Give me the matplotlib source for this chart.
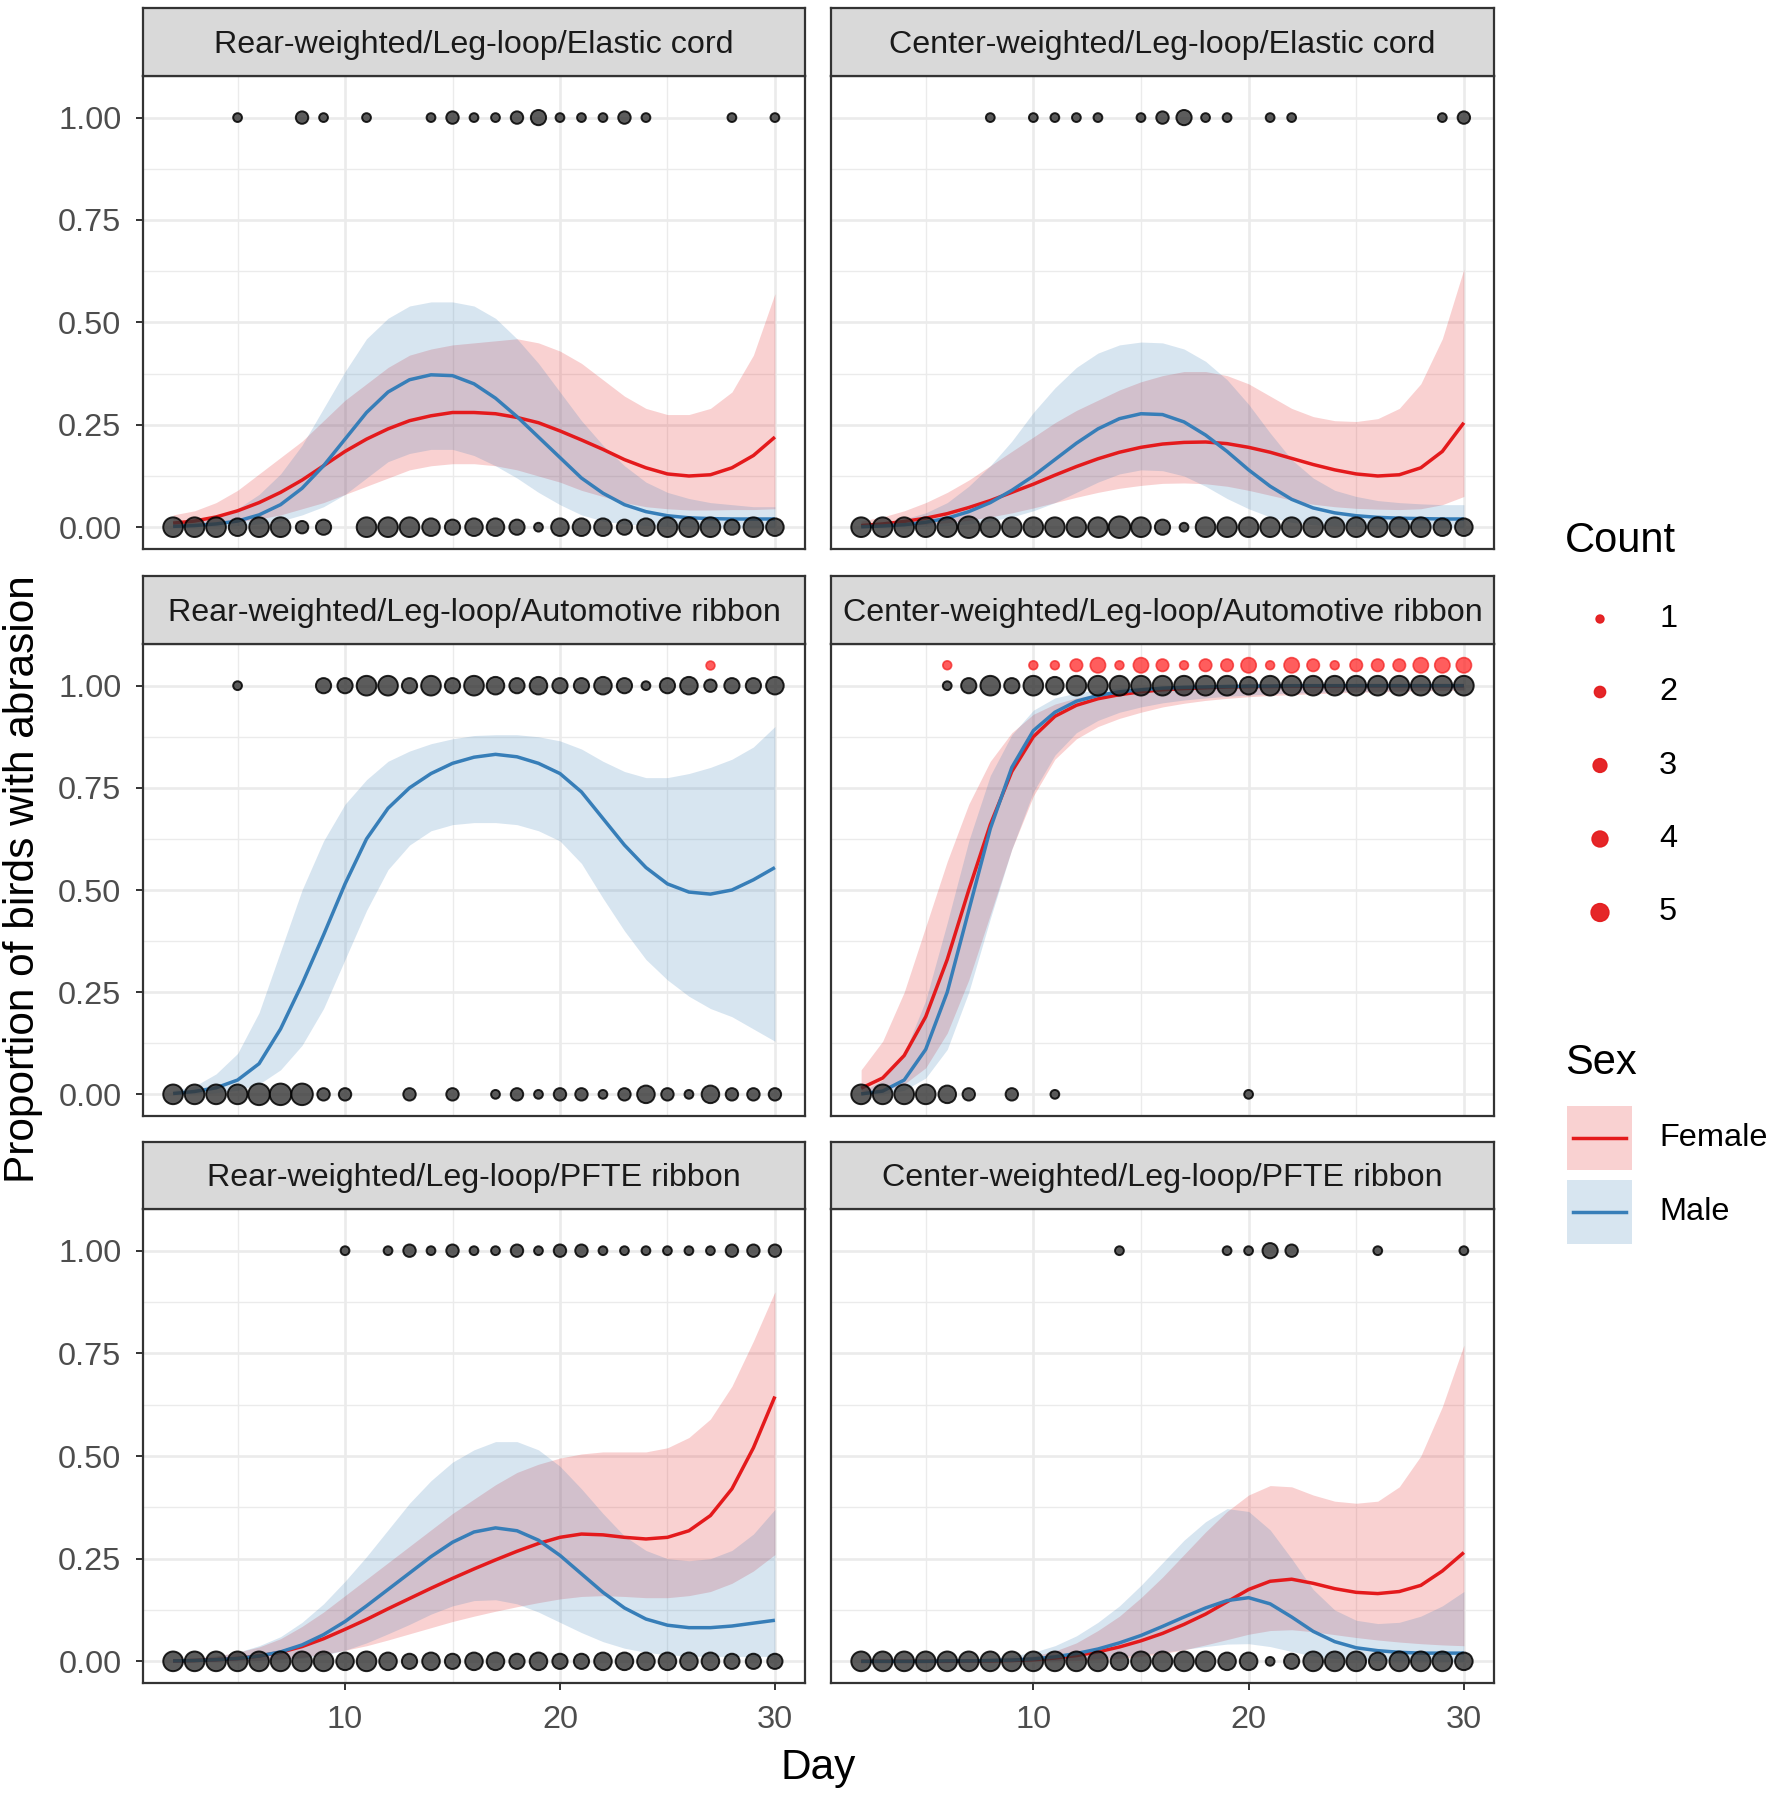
import numpy as np
import matplotlib
matplotlib.use("Agg")
import matplotlib.pyplot as plt
from matplotlib.patches import Rectangle

plt.rcParams['font.family'] = ['Liberation Sans', 'DejaVu Sans']

W, H, DPI = 1770, 1796, 100

# ---------------- data ----------------
days = list(range(2, 31))

panel_titles = ["Rear-weighted/Leg-loop/Elastic cord", "Center-weighted/Leg-loop/Elastic cord",
                "Rear-weighted/Leg-loop/Automotive ribbon", "Center-weighted/Leg-loop/Automotive ribbon",
                "Rear-weighted/Leg-loop/PFTE ribbon", "Center-weighted/Leg-loop/PFTE ribbon"]

y_ticks = [0.0, 0.25, 0.5, 0.75, 1.0]
y_tick_labels = ["0.00", "0.25", "0.50", "0.75", "1.00"]
x_ticks = [10, 20, 30]
x_tick_labels = ["10", "20", "30"]

# Panel 1: Rear / Elastic cord
f_fit_1 = [0.01,0.015,0.025,0.04,0.06,0.085,0.115,0.15,0.185,0.215,0.24,0.26,0.272,0.28,0.28,0.277,0.268,0.255,0.235,0.213,0.19,0.165,0.145,0.13,0.125,0.128,0.145,0.175,0.22]
f_hi_1 = [0.03,0.04,0.06,0.09,0.13,0.17,0.21,0.26,0.31,0.35,0.39,0.42,0.435,0.445,0.45,0.455,0.46,0.45,0.43,0.40,0.36,0.32,0.29,0.275,0.275,0.29,0.33,0.42,0.57]
f_lo_1 = [0.002,0.004,0.008,0.013,0.02,0.03,0.045,0.06,0.08,0.1,0.12,0.14,0.15,0.155,0.155,0.15,0.14,0.125,0.11,0.09,0.075,0.06,0.05,0.045,0.042,0.042,0.043,0.043,0.045]
m_fit_1 = [0.002,0.004,0.008,0.015,0.03,0.055,0.095,0.15,0.215,0.28,0.33,0.36,0.372,0.37,0.35,0.315,0.27,0.22,0.17,0.12,0.083,0.055,0.038,0.028,0.023,0.021,0.02,0.02,0.02]
m_hi_1 = [0.006,0.012,0.025,0.045,0.08,0.13,0.2,0.29,0.38,0.46,0.51,0.54,0.55,0.55,0.54,0.51,0.46,0.40,0.33,0.26,0.2,0.15,0.11,0.085,0.07,0.06,0.055,0.05,0.05]
m_lo_1 = [0.0,0.001,0.002,0.004,0.008,0.015,0.03,0.05,0.08,0.12,0.16,0.18,0.19,0.19,0.175,0.15,0.12,0.085,0.055,0.03,0.015,0.008,0.004,0.002,0.001,0.001,0.0,0.0,0.0]
top_days_1 = [5,8,9,11,14,15,16,17,18,19,20,21,22,23,24,28,30]
top_n_1 = [1,2,1,1,1,2,1,1,2,3,1,1,1,2,1,1,1]
bot_days_1 = [2,3,4,5,6,7,8,9,11,12,13,14,15,16,17,18,19,20,21,22,23,24,25,26,27,28,29,30]
bot_n_1 = [5,5,5,4,5,5,2,3,5,5,5,4,3,4,4,3,1,4,4,4,3,4,5,5,5,3,5,4]

# Panel 2: Center / Elastic cord
f_fit_2 = [0.004,0.008,0.014,0.022,0.033,0.048,0.065,0.085,0.105,0.127,0.148,0.167,0.183,0.195,0.203,0.207,0.208,0.204,0.195,0.183,0.168,0.153,0.14,0.13,0.125,0.128,0.145,0.185,0.255]
f_hi_2 = [0.015,0.025,0.04,0.06,0.085,0.115,0.15,0.185,0.22,0.255,0.285,0.31,0.335,0.355,0.37,0.38,0.38,0.37,0.35,0.32,0.29,0.27,0.26,0.258,0.265,0.29,0.35,0.46,0.63]
f_lo_2 = [0.001,0.002,0.004,0.007,0.011,0.017,0.025,0.035,0.047,0.06,0.073,0.085,0.095,0.102,0.107,0.108,0.106,0.1,0.09,0.078,0.066,0.056,0.05,0.046,0.044,0.043,0.045,0.055,0.075]
m_fit_2 = [0.001,0.003,0.006,0.012,0.022,0.038,0.06,0.09,0.125,0.165,0.205,0.24,0.265,0.277,0.275,0.257,0.225,0.185,0.14,0.1,0.068,0.047,0.035,0.028,0.024,0.022,0.021,0.02,0.02]
m_hi_2 = [0.005,0.01,0.02,0.035,0.06,0.1,0.15,0.21,0.28,0.34,0.39,0.425,0.445,0.452,0.45,0.435,0.405,0.36,0.3,0.23,0.165,0.12,0.09,0.075,0.065,0.06,0.057,0.055,0.055]
m_lo_2 = [0.0,0.0,0.001,0.002,0.004,0.008,0.015,0.025,0.04,0.06,0.085,0.11,0.13,0.14,0.138,0.125,0.1,0.07,0.045,0.025,0.012,0.006,0.003,0.002,0.001,0.001,0.0,0.0,0.0]
top_days_2 = [8,10,11,12,13,15,16,17,18,19,21,22,29,30]
top_n_2 = [1,1,1,1,1,1,2,3,1,1,1,1,1,2]
bot_days_2 = days
bot_n_2 = [5,5,5,5,5,6,5,5,5,5,5,5,6,5,3,1,5,5,5,5,5,5,5,5,5,5,5,4,4]

# Panel 3: Rear / Automotive ribbon (male curve only)
m_fit_3 = [0.002,0.007,0.016,0.035,0.075,0.16,0.27,0.39,0.515,0.625,0.7,0.75,0.785,0.81,0.825,0.832,0.826,0.81,0.785,0.74,0.675,0.61,0.555,0.515,0.495,0.49,0.5,0.525,0.555]
m_hi_3 = [0.01,0.02,0.05,0.1,0.2,0.35,0.5,0.62,0.71,0.77,0.815,0.84,0.858,0.87,0.878,0.88,0.88,0.875,0.865,0.845,0.815,0.79,0.775,0.775,0.785,0.8,0.82,0.85,0.9]
m_lo_3 = [0.0,0.001,0.004,0.01,0.025,0.06,0.12,0.21,0.33,0.45,0.55,0.61,0.645,0.66,0.665,0.665,0.66,0.645,0.62,0.565,0.48,0.4,0.33,0.28,0.24,0.21,0.19,0.16,0.13]
top_days_3 = [5,9,10,11,12,13,14,15,16,17,18,19,20,21,22,23,24,25,26,27,28,29,30]
top_n_3 = [1,3,3,5,5,3,5,3,5,4,3,4,3,3,4,3,1,3,4,2,3,3,4]
bot_days_3 = [2,3,4,5,6,7,8,9,10,13,15,17,18,19,20,21,22,23,24,25,26,27,28,29,30]
bot_n_3 = [5,5,5,5,6,6,6,2,2,2,2,1,2,1,2,2,1,2,4,2,1,4,2,2,2]
fem_days_3 = [27]
fem_n_3 = [1]

# Panel 4: Center / Automotive ribbon
f_fit_4 = [0.015,0.04,0.095,0.19,0.33,0.5,0.66,0.79,0.875,0.925,0.952,0.968,0.978,0.985,0.99,0.993,0.995,0.997,0.998,0.998,0.999,0.999,0.999,1,1,1,1,1,1]
f_hi_4 = [0.06,0.13,0.25,0.41,0.57,0.71,0.815,0.885,0.93,0.955,0.97,0.98,0.987,0.992,0.995,0.997,0.998,0.999,0.999,1,1,1,1,1,1,1,1,1,1]
f_lo_4 = [0.002,0.008,0.025,0.065,0.15,0.28,0.44,0.6,0.73,0.82,0.87,0.9,0.92,0.935,0.948,0.957,0.964,0.969,0.973,0.976,0.978,0.98,0.982,0.984,0.985,0.986,0.987,0.988,0.989]
m_fit_4 = [0.001,0.008,0.035,0.11,0.25,0.45,0.65,0.8,0.89,0.935,0.962,0.976,0.985,0.99,0.994,0.996,0.997,0.998,0.999,0.999,1,1,1,1,1,1,1,1,1]
m_hi_4 = [0.005,0.035,0.1,0.23,0.42,0.62,0.78,0.88,0.94,0.97,0.982,0.99,0.995,0.997,0.998,0.999,1,1,1,1,1,1,1,1,1,1,1,1,1]
m_lo_4 = [0.0,0.001,0.01,0.04,0.11,0.25,0.43,0.6,0.74,0.83,0.885,0.915,0.935,0.948,0.958,0.965,0.97,0.974,0.977,0.98,0.982,0.983,0.985,0.986,0.987,0.988,0.989,0.99,0.99]
top_days_4 = [6,7,8,9,10,11,12,13,14,15,16,17,18,19,20,21,22,23,24,25,26,27,28,29,30]
top_n_4 = [1,3,5,3,5,4,5,5,5,5,5,5,5,5,4,5,5,5,5,5,5,5,5,5,5]
bot_days_4 = [2,3,4,5,6,7,9,11,20]
bot_n_4 = [5,5,5,5,4,2,2,1,1]
fem_days_4 = [6,10,11,12,13,14,15,16,17,18,19,20,21,22,23,24,25,26,27,28,29,30]
fem_n_4 = [1,1,1,2,3,1,3,2,1,2,2,3,1,3,2,1,2,2,2,3,3,3]

# Panel 5: Rear / PFTE ribbon
f_fit_5 = [0.001,0.002,0.004,0.007,0.013,0.022,0.036,0.055,0.078,0.102,0.128,0.153,0.178,0.202,0.225,0.247,0.268,0.287,0.302,0.31,0.308,0.302,0.298,0.302,0.318,0.355,0.42,0.52,0.645]
f_hi_5 = [0.005,0.008,0.013,0.022,0.035,0.055,0.085,0.12,0.16,0.2,0.24,0.28,0.32,0.36,0.395,0.43,0.46,0.48,0.495,0.505,0.51,0.51,0.51,0.52,0.545,0.59,0.67,0.78,0.9]
f_lo_5 = [0.0,0.0,0.001,0.002,0.003,0.006,0.01,0.017,0.027,0.038,0.052,0.067,0.082,0.097,0.11,0.122,0.133,0.143,0.152,0.158,0.16,0.158,0.155,0.155,0.16,0.17,0.19,0.22,0.26]
m_fit_5 = [0.001,0.002,0.004,0.007,0.013,0.023,0.04,0.065,0.097,0.135,0.175,0.215,0.255,0.29,0.315,0.325,0.318,0.295,0.258,0.213,0.168,0.13,0.103,0.088,0.082,0.082,0.086,0.093,0.1]
m_hi_5 = [0.003,0.006,0.012,0.022,0.038,0.06,0.095,0.14,0.195,0.255,0.32,0.385,0.44,0.485,0.515,0.535,0.535,0.515,0.475,0.42,0.36,0.305,0.27,0.25,0.245,0.25,0.27,0.31,0.37]
m_lo_5 = [0.0,0.0,0.001,0.001,0.002,0.004,0.008,0.015,0.027,0.045,0.067,0.09,0.115,0.135,0.148,0.15,0.14,0.12,0.095,0.07,0.048,0.032,0.022,0.016,0.013,0.012,0.012,0.012,0.012]
top_days_5 = [10,12,13,14,15,16,17,18,19,20,21,22,23,24,25,26,27,28,29,30]
top_n_5 = [1,1,2,1,2,1,1,2,1,2,2,1,1,1,1,1,1,2,2,2]
bot_days_5 = days
bot_n_5 = [5,5,5,5,5,5,5,5,4,5,4,3,4,3,4,4,3,4,3,3,4,4,4,4,4,4,3,3,3]

# Panel 6: Center / PFTE ribbon
f_fit_6 = [0.0,0.0,0.0,0.0,0.0,0.001,0.001,0.002,0.004,0.008,0.014,0.023,0.035,0.05,0.068,0.09,0.115,0.145,0.175,0.195,0.2,0.19,0.177,0.168,0.165,0.17,0.185,0.22,0.265]
f_hi_6 = [0.0,0.0,0.001,0.001,0.002,0.003,0.005,0.008,0.013,0.025,0.045,0.075,0.11,0.155,0.205,0.26,0.315,0.365,0.405,0.428,0.425,0.405,0.39,0.385,0.39,0.425,0.5,0.62,0.77]
f_lo_6 = [0.0,0.0,0.0,0.0,0.0,0.0,0.0,0.0,0.0,0.001,0.002,0.004,0.007,0.012,0.019,0.028,0.04,0.053,0.066,0.075,0.077,0.072,0.065,0.058,0.052,0.047,0.043,0.04,0.038]
m_fit_6 = [0.0,0.0,0.0,0.0,0.001,0.001,0.002,0.003,0.006,0.011,0.019,0.03,0.045,0.063,0.085,0.108,0.13,0.148,0.155,0.14,0.108,0.073,0.048,0.033,0.026,0.022,0.02,0.02,0.02]
m_hi_6 = [0.0,0.001,0.001,0.002,0.003,0.005,0.008,0.013,0.022,0.038,0.062,0.095,0.135,0.185,0.24,0.295,0.34,0.372,0.365,0.32,0.25,0.175,0.125,0.1,0.092,0.095,0.11,0.135,0.17]
m_lo_6 = [0.0,0.0,0.0,0.0,0.0,0.0,0.0,0.0,0.001,0.002,0.004,0.007,0.011,0.016,0.022,0.029,0.036,0.042,0.043,0.036,0.024,0.013,0.007,0.004,0.002,0.001,0.001,0.0,0.0]
top_days_6 = [14,19,20,21,22,26,30]
top_n_6 = [1,1,1,3,2,1,1]
bot_days_6 = days
bot_n_6 = [5,5,5,5,5,5,5,5,5,5,5,5,4,5,5,5,5,4,4,1,3,5,5,5,4,5,5,5,4]

legend_counts = [1, 2, 3, 4, 5]
sex_labels = ["Female", "Male"]

panels = [
    dict(f=(f_fit_1, f_lo_1, f_hi_1), m=(m_fit_1, m_lo_1, m_hi_1), top=(top_days_1, top_n_1), bot=(bot_days_1, bot_n_1), fem=None),
    dict(f=(f_fit_2, f_lo_2, f_hi_2), m=(m_fit_2, m_lo_2, m_hi_2), top=(top_days_2, top_n_2), bot=(bot_days_2, bot_n_2), fem=None),
    dict(f=None, m=(m_fit_3, m_lo_3, m_hi_3), top=(top_days_3, top_n_3), bot=(bot_days_3, bot_n_3), fem=(fem_days_3, fem_n_3)),
    dict(f=(f_fit_4, f_lo_4, f_hi_4), m=(m_fit_4, m_lo_4, m_hi_4), top=(top_days_4, top_n_4), bot=(bot_days_4, bot_n_4), fem=(fem_days_4, fem_n_4)),
    dict(f=(f_fit_5, f_lo_5, f_hi_5), m=(m_fit_5, m_lo_5, m_hi_5), top=(top_days_5, top_n_5), bot=(bot_days_5, bot_n_5), fem=None),
    dict(f=(f_fit_6, f_lo_6, f_hi_6), m=(m_fit_6, m_lo_6, m_hi_6), top=(top_days_6, top_n_6), bot=(bot_days_6, bot_n_6), fem=None),
]

# ---------------- style ----------------
RED = "#E41A1C"
BLUE = "#377EB8"
GRID = "#EBEBEB"
BORDER = "#333333"
PX = 72.0 / DPI  # points per pixel
LW = 2.5


def msize(n, k=8.8):
    d_px = k * np.sqrt(np.asarray(n, dtype=float))
    return (d_px * PX) ** 2


def frect(x0, y0, x1, y1):
    return [x0 / W, 1 - y1 / H, (x1 - x0) / W, (y1 - y0) / H]


fig = plt.figure(figsize=(W / DPI, H / DPI), dpi=DPI)
fig.patch.set_facecolor("white")

cols = [(143, 805), (831, 1494)]
rows = [(8, 75.6, 548.7), (576.2, 643.8, 1115.8), (1142.2, 1208.6, 1682.9)]

for i, p in enumerate(panels):
    r, c = divmod(i, 2)
    cx0, cx1 = cols[c]
    st, pt, pb = rows[r]
    ax = fig.add_axes(frect(cx0, pt, cx1, pb))
    sax = fig.add_axes(frect(cx0, st, cx1, pt))
    # strip
    sax.set_facecolor("#D9D9D9")
    sax.set_xticks([]); sax.set_yticks([])
    for s in sax.spines.values():
        s.set_color(BORDER); s.set_linewidth(1.6)
    sax.text(0.5, 0.46, panel_titles[i], ha="center", va="center", fontsize=23.2,
             color="#1A1A1A", transform=sax.transAxes)

    ax.set_xlim(0.6, 31.4)
    ax.set_ylim(-0.0525, 1.1025)
    ax.set_xticks(x_ticks)
    ax.set_xticks([5, 15, 25], minor=True)
    ax.set_yticks(y_ticks)
    ax.set_yticks([0.125, 0.375, 0.625, 0.875], minor=True)
    ax.grid(which="major", color=GRID, lw=1.9)
    ax.grid(which="minor", color=GRID, lw=1.0)
    ax.set_axisbelow(True)
    for s in ax.spines.values():
        s.set_color(BORDER); s.set_linewidth(1.6)
    ax.tick_params(which="minor", length=0)
    ax.tick_params(which="major", direction="out", length=5, width=1.4, color=BORDER,
                   labelsize=23.4, labelcolor="#4D4D4D")
    ax.tick_params(axis="y", pad=10.5)
    ax.tick_params(axis="x", pad=11)
    if c == 0:
        ax.set_yticklabels(y_tick_labels)
    else:
        ax.tick_params(axis="y", length=0, labelleft=False)
    if r == 2:
        ax.set_xticklabels(x_tick_labels)
    else:
        ax.tick_params(axis="x", length=0, labelbottom=False)

    # ribbons
    if p["f"] is not None:
        ax.fill_between(days, p["f"][1], p["f"][2], color=RED, alpha=0.2, lw=0, zorder=2)
    ax.fill_between(days, p["m"][1], p["m"][2], color=BLUE, alpha=0.2, lw=0, zorder=2)
    # lines
    if p["f"] is not None:
        ax.plot(days, p["f"][0], color=RED, lw=LW, zorder=3, solid_capstyle="butt",
                solid_joinstyle="round")
    ax.plot(days, p["m"][0], color=BLUE, lw=LW, zorder=3, solid_capstyle="butt",
            solid_joinstyle="round")

    # points
    td, tn = p["top"]
    bd, bn = p["bot"]
    ax.scatter(td, [1.0] * len(td), s=msize(tn), facecolor=(0.2, 0.2, 0.2, 0.8),
               edgecolor=(0, 0, 0, 0.85), linewidths=1.4, zorder=4)
    ax.scatter(bd, [0.0] * len(bd), s=msize(bn), facecolor=(0.2, 0.2, 0.2, 0.8),
               edgecolor=(0, 0, 0, 0.85), linewidths=1.4, zorder=4)
    if p["fem"] is not None:
        fd, fn = p["fem"]
        ax.scatter(fd, [1.05] * len(fd), s=msize(fn), facecolor=(1, 0.12, 0.12, 0.72),
                   edgecolor=(0.95, 0.12, 0.12, 0.72), linewidths=1.2, zorder=4)

# axis titles
fig.text(818 / W, 1 - 1768 / H, "Day", ha="center", va="center", fontsize=30.5)
fig.text(23 / W, 1 - 879 / H, "Proportion of birds with abrasion", ha="center", va="center",
         fontsize=30.5, rotation=90)

# legends (drawn in a pixel-coordinate overlay)
lax = fig.add_axes([0, 0, 1, 1])
lax.set_xlim(0, W); lax.set_ylim(H, 0); lax.axis("off")
lax.text(1565, 541, "Count", fontsize=30, ha="left", va="center")
ly = [619, 692, 765.5, 839, 912.5]
lax.scatter([1600] * 5, ly, s=msize(legend_counts, 8.0), facecolor=RED, edgecolor=RED,
            linewidths=1.0, alpha=0.95)
for yy, n in zip(ly, legend_counts):
    lax.text(1659, yy, str(n), fontsize=23.4, ha="left", va="center")

lax.text(1565, 1063, "Sex", fontsize=30, ha="left", va="center")
for yy, col, lab in zip([1138, 1211.5], [RED, BLUE], sex_labels):
    lax.add_patch(Rectangle((1567, yy - 32), 65, 64, facecolor=col, alpha=0.2, lw=0))
    lax.plot([1573, 1626], [yy, yy], color=col, lw=LW)
    lax.text(1659, yy, lab, fontsize=23.4, ha="left", va="center")

fig.savefig("out.png", dpi=DPI)
